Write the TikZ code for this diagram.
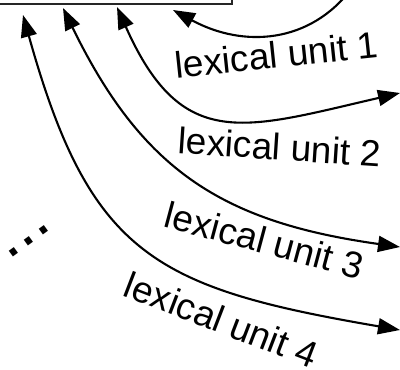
\documentclass[tikz,border=0pt]{standalone}
\usepackage{fontspec}
\setmainfont{Liberation Sans}
\usetikzlibrary{arrows.meta}
\tikzset{
  conn/.style={line width=2.1pt, black, >={Triangle[length=22pt, width=16pt]}},
  lbl/.style={font=\fontsize{37}{40}\selectfont, inner sep=0pt, anchor=base},
  boxstyle/.style={draw=black!85, line width=1.6pt, outer sep=0pt, minimum width=300pt, minimum height=60pt, anchor=south east}
}
\begin{document}
\begin{tikzpicture}[x=1pt, y=-1pt]
\useasboundingbox (0,0) rectangle (400,370);
\clip (0,0) rectangle (400,370);
% box (mostly outside the view)
\node[boxstyle] (box) at (232,4) {};
% end points
\coordinate (a1) at (173,10);
\coordinate (b1) at (352,-12);
\coordinate (a2) at (117,7);
\coordinate (b2) at (400,93);
\coordinate (a3) at (63,8);
\coordinate (b3) at (400,247);
\coordinate (a4) at (23,15);
\coordinate (b4) at (400,330);
% connectors
\draw[conn, <-] (a1) .. controls (243,48) and (310,44) .. (b1);
\draw[conn, <->] (a2) .. controls (182,153) and (244,129) .. (b2);
\draw[conn, <->] (a3) .. controls (142,170) and (222,222) .. (b3);
\draw[conn, <->] (a4) .. controls (90,255) and (155,288) .. (b4);
% labels
\node[lbl, rotate=6] (l1) at (278,68) {lexical unit 1};
\node[lbl, rotate=-3.8] (l2) at (279,160) {lexical unit 2};
\node[lbl, rotate=-15] (l3) at (261,253) {lexical unit 3};
\node[lbl, rotate=-21] (l4) at (217,332) {lexical unit 4};
\node[font=\fontsize{66}{66}\selectfont, inner sep=0pt, rotate=36] (dots) at (29,241) {...};
\end{tikzpicture}
\end{document}
